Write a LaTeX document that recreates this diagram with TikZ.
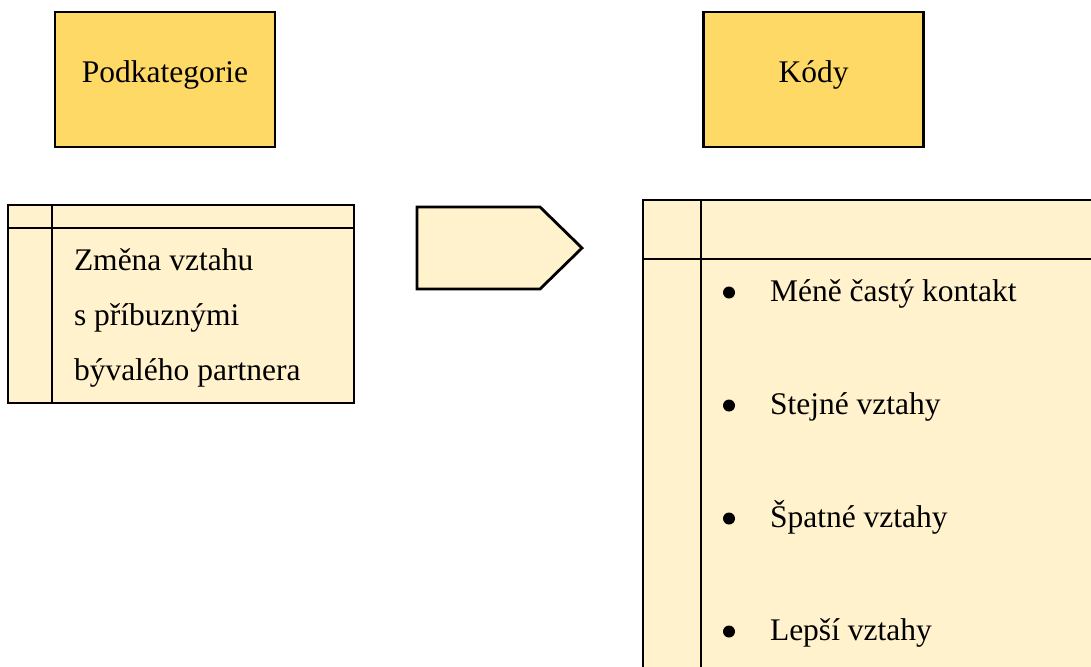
\documentclass[tikz,border=0pt]{standalone}
\usepackage{fontspec}
\setmainfont{Liberation Serif}
\definecolor{catgold}{HTML}{FFD966}
\definecolor{tabcream}{HTML}{FFF2CC}

\begin{document}
\begin{tikzpicture}[x=0.5pt,y=-0.5pt]
    \tikzstyle{every node}+=[inner sep=0pt, outer sep=0pt, font=\fontsize{15.75}{19}\selectfont]
    \tikzstyle{headbox}=[draw=black, line width=1.4pt, fill=catgold, minimum width=110pt, minimum height=67.5pt]
    \tikzstyle{tabbox}=[draw=black, line width=1.4pt, fill=tabcream]
    \tikzstyle{tabline}=[draw=black, line width=1.4pt]
    \tikzstyle{dot}=[circle, fill=black, minimum size=6pt]
    \useasboundingbox (0,0) rectangle (1091,666);
    \clip (0,0) rectangle (1091,666);
    % headings
    \node [headbox] (podkat) at (165,79.5) {};
    \node [anchor=base] (podkatlabel) at (165,82) {Podkategorie};
    \node [headbox] (kody) at (813.5,79.5) {};
    \node [anchor=base] (kodylabel) at (813.5,82) {Kódy};
    % left table
    \node [tabbox, minimum width=173pt, minimum height=99pt] (lefttab) at (181,304) {};
    \draw [tabline] ([yshift=-11.5pt]lefttab.north west) -- ([yshift=-11.5pt]lefttab.north east);
    \draw [tabline] ([xshift=22pt]lefttab.north west) -- ([xshift=22pt]lefttab.south west);
    \node [anchor=base west] (sub1) at (74,270) {Změna vztahu};
    \node [anchor=base west] (sub2) at (74,325) {s příbuznými};
    \node [anchor=base west] (sub3) at (74,380) {bývalého partnera};
    % arrow
    \draw [tabline, fill=tabcream] (417,207) -- (540,207) -- (582,248) -- (540,289) -- (417,289) -- cycle;
    % right table
    \node [tabbox, minimum width=233.5pt, minimum height=245pt] (righttab) at (876.5,445) {};
    \draw [tabline] ([yshift=-29.5pt]righttab.north west) -- ([yshift=-29.5pt]righttab.north east);
    \draw [tabline] ([xshift=29pt]righttab.north west) -- ([xshift=29pt]righttab.south west);
    \foreach \txt [count=\i] in {Méně častý kontakt, Stejné vztahy, Špatné vztahy, Lepší vztahy} {
        \pgfmathsetmacro{\yy}{301+(\i-1)*113}
        \node [dot] (dot\i) at (729,\yy-8.5) {};
        \node [anchor=base west] (code\i) at (770,\yy) {\txt};
    }
\end{tikzpicture}
\end{document}
